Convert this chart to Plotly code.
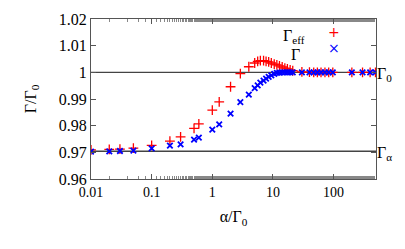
import math
import plotly.graph_objects as go

# ---- data ----
alpha_ratio = [0.01, 0.02, 0.03, 0.05, 0.1, 0.2, 0.3, 0.5, 0.6, 1.0, 1.3, 2.0, 2.9,
               4.0, 5.0, 5.6, 6.2, 7.0, 7.7, 8.5, 9.4, 10.5, 11.6, 12.8, 14.2, 15.7,
               17.3, 19.2, 21.2, 30, 40, 47, 54, 62, 72, 83, 97, 200, 300, 400, 490]
gamma_eff = [0.9709, 0.9711, 0.9712, 0.9716, 0.9726, 0.9742, 0.9758, 0.9790, 0.9807,
             0.9858, 0.9889, 0.9946, 0.9995, 1.0021, 1.0035, 1.0041, 1.0044, 1.0044,
             1.0041, 1.0039, 1.0035, 1.0031, 1.0028, 1.0024, 1.0020, 1.0016, 1.0013,
             1.0009, 1.0006, 1.0002, 1.0001, 1.0, 1.0, 1.0, 1.0, 1.0, 1.0, 1.0, 1.0,
             1.0, 1.0]
gamma = [0.9703, 0.9704, 0.9705, 0.9706, 0.9715, 0.9725, 0.9730, 0.9748, 0.9755,
         0.9785, 0.9805, 0.9845, 0.9888, 0.9916, 0.9941, 0.9951, 0.9961, 0.9969,
         0.9976, 0.9983, 0.9989, 0.9994, 0.9998, 0.9999, 1.0, 1.0, 1.0, 1.0, 1.0,
         1.0, 1.0, 1.0, 1.0, 1.0, 1.0, 1.0, 1.0, 1.0, 1.0, 1.0, 1.0]
gamma_0 = 1.0
gamma_alpha = 0.9704
series_labels = ["Γ<sub>eff</sub>", "Γ"]
x_tickvals = [0.01, 0.1, 1, 10, 100]
x_ticktext = ["0.01", "0.1", "1", "10", "100"]
y_tickvals = [0.96, 0.97, 0.98, 0.99, 1.0, 1.01, 1.02]
y_ticktext = ["0.96", "0.97", "0.98", "0.99", "1", "1.01", "1.02"]

FONT = "Liberation Serif, Times New Roman, serif"
RED = "#ff0000"
BLUE = "#0000ff"

fig = go.Figure()
fig.add_trace(go.Scatter(
    x=alpha_ratio, y=gamma_eff, mode="markers", name="Γ_eff", showlegend=False,
    marker=dict(symbol="cross-thin", size=7, line=dict(color=RED, width=1.3)),
))
fig.add_trace(go.Scatter(
    x=alpha_ratio, y=gamma, mode="markers", name="Γ", showlegend=False,
    marker=dict(symbol="x-thin", size=5.5, line=dict(color=BLUE, width=1.8)),
))

# reference lines
for yv, w in [(gamma_0, 1.2), (gamma_alpha, 1.5)]:
    fig.add_shape(type="line", xref="paper", x0=0, x1=1, yref="y", y0=yv, y1=yv,
                  line=dict(color="#444444", width=w), layer="below")

# right-side labels
for yv, txt in [(gamma_0, "Γ<sub>0</sub>"), (gamma_alpha, "Γ<sub>α</sub>")]:
    fig.add_annotation(x=1, xref="paper", y=yv, yref="y", xanchor="left",
                       yanchor="middle", text=txt, showarrow=False, xshift=-1,
                       yshift=-2, font=dict(family=FONT, size=16, color="black"))

# legend (text right-aligned, key to the right as in the original)
key_x = math.log10(100)      # key column sits above alpha/Gamma0 = 100
legend_rows = [
    # (paper y, label, label right edge (alpha/Gamma0), label yshift, key, colour)
    (0.929, series_labels[0], 37.0, -6, "+", RED),
    (0.829, series_labels[1], 30.0, -8, "×", BLUE),
]
for (ly, txt, lx, tshift, key, col) in legend_rows:
    fig.add_annotation(x=math.log10(lx), xref="x", y=ly, yref="paper",
                       xanchor="right", yanchor="middle", height=15,
                       text=txt, showarrow=False, yshift=tshift,
                       font=dict(family=FONT, size=16, color="black"))
    fig.add_annotation(x=key_x, xref="x", y=ly, yref="paper", xanchor="center",
                       yanchor="middle", height=13, text=key, showarrow=False,
                       yshift=-1, font=dict(family="DejaVu Sans", size=14, color=col))

# the page body adds an 8 px offset; size the figure to fit the window
fig.update_layout(
    width=397, height=241,
    margin=dict(l=83, r=29, t=11, b=70, autoexpand=False),
    paper_bgcolor="white", plot_bgcolor="white",
    font=dict(family=FONT, size=15, color="black"),
    showlegend=False,
)
fig.update_xaxes(
    type="log", range=[-2, 2.699], automargin=False,
    tickvals=x_tickvals, ticktext=x_ticktext, tickfont=dict(size=14),
    ticks="inside", ticklen=5, tickcolor="#555555",
    minor=dict(ticks="inside", ticklen=3, tickcolor="#888888", showgrid=False),
    showline=True, linecolor="#555555", linewidth=1, mirror="ticks",
    showgrid=False, zeroline=False,
    title=dict(text="α/Γ<sub>0</sub>", standoff=12, font=dict(size=16)),
)
fig.update_yaxes(
    range=[0.96, 1.02], automargin=False,
    tickvals=y_tickvals, ticktext=y_ticktext, tickfont=dict(size=16),
    ticks="inside", ticklen=5, tickcolor="#555555",
    showline=True, linecolor="#555555", linewidth=1, mirror="ticks",
    showgrid=False, zeroline=False,
    title=dict(text="Γ/Γ<sub>0</sub>", standoff=18, font=dict(size=16)),
)

fig.write_html("out.html")
